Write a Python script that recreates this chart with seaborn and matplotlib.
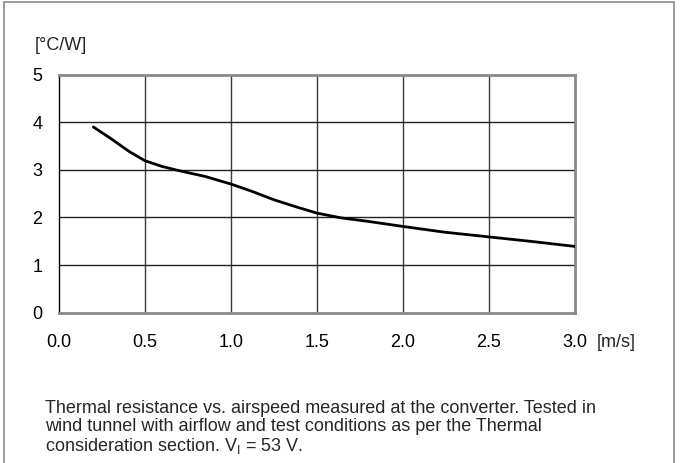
import matplotlib
matplotlib.use("Agg")
import matplotlib.pyplot as plt
import seaborn as sns
import pandas as pd
from matplotlib.patches import Rectangle

# Data
airspeed = [0.2, 0.3, 0.41, 0.5, 0.6, 0.7, 0.85, 1.0, 1.12, 1.25, 1.38, 1.5, 1.64, 1.79, 2.0, 2.24, 2.5, 2.76, 3.0]
resistance = [3.9, 3.66, 3.38, 3.19, 3.07, 2.98, 2.86, 2.70, 2.55, 2.37, 2.22, 2.09, 1.99, 1.92, 1.81, 1.69, 1.59, 1.49, 1.39]
x_ticks = [0.0, 0.5, 1.0, 1.5, 2.0, 2.5, 3.0]
x_tick_labels = ["0.0", "0.5", "1.0", "1.5", "2.0", "2.5", "3.0"]
y_ticks = [0, 1, 2, 3, 4, 5]
y_unit = "[°C/W]"
x_unit = "[m/s]"
caption = ("Thermal resistance vs. airspeed measured at the converter. Tested in\n"
           "wind tunnel with airflow and test conditions as per the Thermal\n"
           "consideration section. V$_{\\mathrm{I}}$ = 53 V.")

sns.set_style("white")
plt.rcParams['font.family'] = ['Liberation Sans', 'DejaVu Sans']
plt.rcParams['mathtext.fontset'] = 'custom'
plt.rcParams['mathtext.rm'] = 'Liberation Sans'
plt.rcParams['mathtext.it'] = 'Liberation Sans:italic'

df = pd.DataFrame({"airspeed": airspeed, "resistance": resistance})

FS = 13
fig = plt.figure(figsize=(6.82, 4.63), dpi=100)
W, H = 682, 463
left, right, top, bottom = 59, 575, 74.6, 312.6
ax = fig.add_axes([left / W, 1 - bottom / H, (right - left) / W, (bottom - top) / H])

# gridlines
for xv in x_ticks[1:-1]:
    ax.axvline(xv, color="#3a3a3a", lw=1.0, zorder=1)
for yv in y_ticks[1:-1]:
    ax.axhline(yv, color="#222222", lw=1.0, zorder=1)

sns.lineplot(data=df, x="airspeed", y="resistance", ax=ax, color="black", lw=2.0, zorder=3)

ax.set_xlim(0, 3.0)
ax.set_ylim(0, 5)
ax.set_xticks(x_ticks)
ax.set_xticklabels(x_tick_labels)
ax.set_yticks(y_ticks)
ax.set_xlabel("")
ax.set_ylabel("")
ax.tick_params(axis="both", labelsize=FS, colors="black", length=3, width=1, direction="out")
ax.tick_params(axis="x", pad=12.5)
ax.tick_params(axis="y", pad=9)

for side in ["top", "right", "bottom"]:
    ax.spines[side].set_color("#8a8a8a")
    ax.spines[side].set_linewidth(2.0)
ax.spines["left"].set_color("black")
ax.spines["left"].set_linewidth(1.0)

fig.text(35 / W, 1 - 45 / H, y_unit, fontsize=FS, ha="left", va="center")
fig.text(597 / W, 1 - 347 / H, x_unit, fontsize=FS, ha="left", va="baseline")
fig.text(45 / W, 1 - 428 / H, caption, fontsize=FS, ha="left", va="center", linespacing=1.1)

fig.patches.append(Rectangle((4 / W, -0.01), 670 / W, 1.01 - 2 / H, transform=fig.transFigure,
                             fill=False, edgecolor="#8a8a8a", lw=1.2))

fig.savefig("out.png", dpi=100)
